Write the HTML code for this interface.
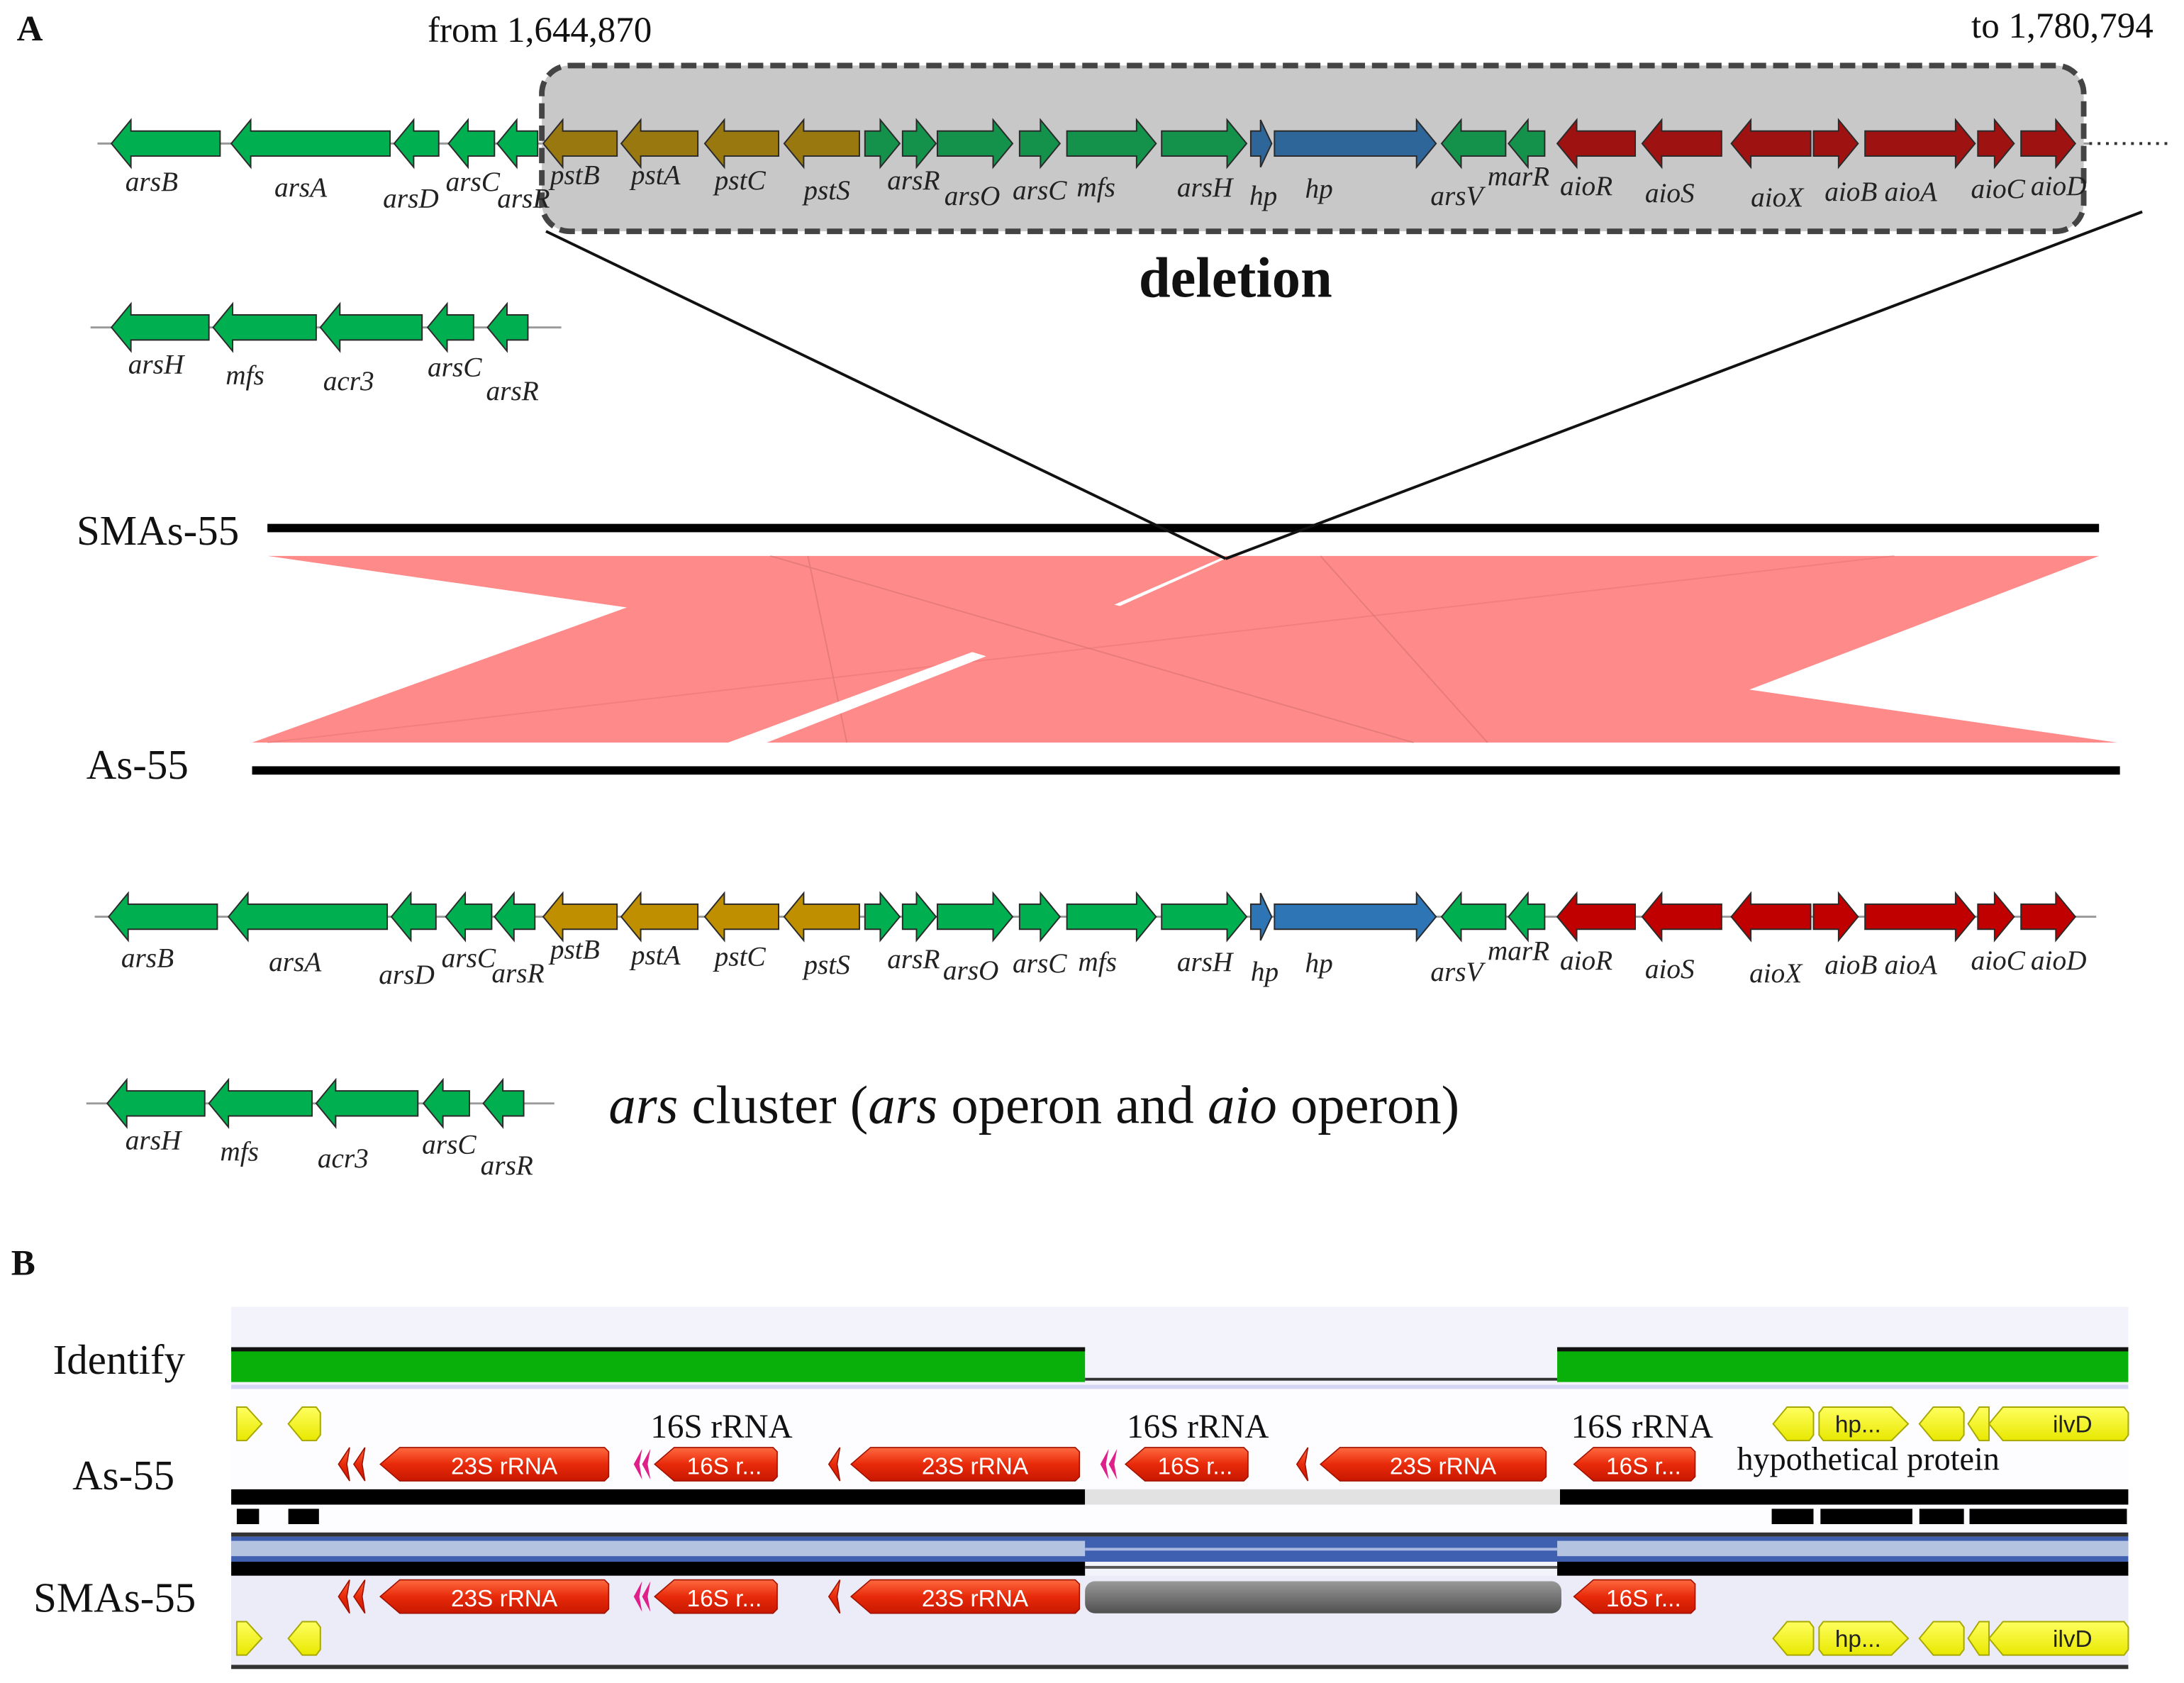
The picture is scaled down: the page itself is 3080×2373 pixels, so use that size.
<!DOCTYPE html>
<html><head><meta charset="utf-8"><style>
html,body{margin:0;padding:0;background:#fff}
svg{display:block}
.it{font-family:"Liberation Serif",serif;font-style:italic;font-size:20px;fill:#222}
.sf{font-family:"Liberation Serif",serif;fill:#111}
.ss{font-family:"Liberation Sans",sans-serif;fill:#fff;font-size:17px}
.gn polygon{stroke:#2a2a2a;stroke-width:1}
.G{fill:var(--g)}.Y{fill:var(--y)}.B{fill:var(--b)}.R{fill:var(--r)}
</style></head><body>
<svg width="3080" height="2373" viewBox="0 0 1568 1208" xmlns="http://www.w3.org/2000/svg">
<defs>
<linearGradient id="rg" x1="0" y1="0" x2="0" y2="1"><stop offset="0" stop-color="#ff6a40"/><stop offset="0.5" stop-color="#e82a0a"/><stop offset="1" stop-color="#c81800"/></linearGradient>
<linearGradient id="gg" x1="0" y1="0" x2="0" y2="1"><stop offset="0" stop-color="#999"/><stop offset="1" stop-color="#505050"/></linearGradient>
<linearGradient id="yg" x1="0" y1="0" x2="0" y2="1"><stop offset="0" stop-color="#ffff60"/><stop offset="1" stop-color="#e8e800"/></linearGradient>
<g id="row" class="gn">
<polygon class="R" points="1118,0 1132,-17 1132,-9 1174,-9 1174,9 1132,9 1132,17"/>
<polygon class="R" points="1179,0 1193,-17 1193,-9 1236,-9 1236,9 1193,9 1193,17"/>
<polygon class="R" points="1243,0 1257,-17 1257,-9 1300,-9 1300,9 1257,9 1257,17"/>
<polygon class="R" points="1302,-9 1320,-9 1320,-17 1334,0 1320,17 1320,9 1302,9"/>
<polygon class="R" points="1339,-9 1404,-9 1404,-17 1418,0 1404,17 1404,9 1339,9"/>
<polygon class="R" points="1420,-9 1432,-9 1432,-17 1446,0 1432,17 1432,9 1420,9"/>
<polygon class="R" points="1451,-9 1476,-9 1476,-17 1490,0 1476,17 1476,9 1451,9"/>
<polygon class="Y" points="390,0 404,-17 404,-9 443,-9 443,9 404,9 404,17"/>
<polygon class="Y" points="446,0 460,-17 460,-9 501,-9 501,9 460,9 460,17"/>
<polygon class="Y" points="506,0 520,-17 520,-9 559,-9 559,9 520,9 520,17"/>
<polygon class="Y" points="563,0 577,-17 577,-9 617,-9 617,9 577,9 577,17"/>
<polygon class="G" points="621,-9 632,-9 632,-17 646,0 632,17 632,9 621,9"/>
<polygon class="G" points="648,-9 658,-9 658,-17 672,0 658,17 658,9 648,9"/>
<polygon class="G" points="673,-9 713,-9 713,-17 727,0 713,17 713,9 673,9"/>
<polygon class="G" points="732,-9 747,-9 747,-17 761,0 747,17 747,9 732,9"/>
<polygon class="G" points="766,-9 816,-9 816,-17 830,0 816,17 816,9 766,9"/>
<polygon class="G" points="834,-9 881,-9 881,-17 895,0 881,17 881,9 834,9"/>
<polygon class="B" points="898,-9 905,-9 905,-17 913,0 905,17 905,9 898,9"/>
<polygon class="B" points="915,-9 1017,-9 1017,-17 1031,0 1017,17 1017,9 915,9"/>
<polygon class="G" points="1035,0 1049,-17 1049,-9 1081,-9 1081,9 1049,9 1049,17"/>
<polygon class="G" points="1083,0 1097,-17 1097,-9 1109,-9 1109,9 1097,9 1097,17"/>
</g>
<g id="left5" class="gn" style="--g:#00b050">
<polygon class="G" points="80,0 94,-17 94,-9 158,-9 158,9 94,9 94,17"/>
<polygon class="G" points="166,0 180,-17 180,-9 280,-9 280,9 180,9 180,17"/>
<polygon class="G" points="283,0 297,-17 297,-9 315,-9 315,9 297,9 297,17"/>
<polygon class="G" points="322,0 336,-17 336,-9 355,-9 355,9 336,9 336,17"/>
<polygon class="G" points="357,0 371,-17 371,-9 386,-9 386,9 371,9 371,17"/>
</g>
<g id="small" class="gn" style="--g:#00b050">
<polygon class="G" points="80,0 94,-17 94,-9 150,-9 150,9 94,9 94,17"/>
<polygon class="G" points="153,0 167,-17 167,-9 227,-9 227,9 167,9 167,17"/>
<polygon class="G" points="230,0 244,-17 244,-9 303,-9 303,9 244,9 244,17"/>
<polygon class="G" points="307,0 321,-17 321,-9 340,-9 340,9 321,9 321,17"/>
<polygon class="G" points="350,0 364,-17 364,-9 379,-9 379,9 364,9 364,17"/>
</g>
</defs>

<!-- Panel A -->
<text x="12" y="29" class="sf" style="font-size:26px;font-weight:bold">A</text>
<text x="307" y="30" class="sf" style="font-size:26px">from 1,644,870</text>
<text x="1546" y="27" class="sf" text-anchor="end" style="font-size:26px">to 1,780,794</text>

<line x1="70" y1="103" x2="1500" y2="103" stroke="#999" stroke-width="1.5"/>
<line x1="1500" y1="103" x2="1560" y2="103" stroke="#333" stroke-width="2" stroke-dasharray="2,4"/>
<rect x="389" y="47" width="1107" height="119" rx="20" fill="#c8c8c8" stroke="#444" stroke-width="4" stroke-dasharray="11,5"/>
<use href="#left5" transform="translate(0,103)"/>
<use href="#row" transform="translate(0,103)" style="--g:#14914a;--y:#9a7810;--b:#2f6699;--r:#9e1212"/>
<g class="it">
<text x="90" y="137">arsB</text><text x="197" y="141">arsA</text><text x="275" y="149">arsD</text><text x="320" y="137">arsC</text><text x="357" y="149">arsR</text>
<text x="395" y="132">pstB</text><text x="453" y="132">pstA</text><text x="513" y="136">pstC</text><text x="577" y="143">pstS</text><text x="637" y="136">arsR</text><text x="678" y="147">arsO</text><text x="727" y="143">arsC</text><text x="773" y="141">mfs</text><text x="845" y="141">arsH</text><text x="897" y="147">hp</text><text x="937" y="142">hp</text><text x="1027" y="147">arsV</text><text x="1068" y="133">marR</text><text x="1120" y="140">aioR</text><text x="1181" y="145">aioS</text><text x="1257" y="148">aioX</text><text x="1310" y="144">aioB</text><text x="1353" y="144">aioA</text><text x="1415" y="142">aioC</text><text x="1458" y="140">aioD</text>
</g>

<line x1="65" y1="235" x2="403" y2="235" stroke="#999" stroke-width="1.5"/>
<use href="#small" transform="translate(0,235)"/>
<g class="it"><text x="92" y="268">arsH</text><text x="162" y="276">mfs</text><text x="232" y="280">acr3</text><text x="307" y="270">arsC</text><text x="349" y="287">arsR</text></g>

<text x="887" y="213" class="sf" text-anchor="middle" style="font-size:41px;font-weight:bold">deletion</text>

<!-- synteny -->
<text x="55" y="391" class="sf" style="font-size:30px">SMAs-55</text>
<rect x="192" y="376" width="1315" height="6" fill="#000"/>
<polygon points="192,399 1507,399 1256,495 1520,533 181,533 450,436" fill="#ff8a8a"/>
<g stroke="#b05a5a" stroke-width="1" opacity="0.3" fill="none">
<line x1="553" y1="399" x2="1015" y2="533"/><line x1="580" y1="399" x2="608" y2="533"/><line x1="948" y1="399" x2="1068" y2="533"/>
</g>
<line x1="192" y1="533" x2="1360" y2="399" stroke="#e07070" stroke-width="1" opacity="0.4"/>
<polygon points="520,534 548,534 708,471 698,468" fill="#fff"/>
<polygon points="800,434 804,435 882,400 878,400" fill="#fff"/>
<line x1="392" y1="166" x2="880" y2="401" stroke="#111" stroke-width="2"/>
<line x1="1538" y1="152" x2="880" y2="401" stroke="#111" stroke-width="2"/>
<text x="62" y="559" class="sf" style="font-size:30px">As-55</text>
<rect x="181" y="550" width="1341" height="6" fill="#000"/>

<line x1="68" y1="658" x2="1505" y2="658" stroke="#999" stroke-width="1.5"/>
<use href="#left5" transform="translate(-2,658)"/>
<use href="#row" transform="translate(0,658)" style="--g:#00b050;--y:#bf8f00;--b:#2e75b6;--r:#c00000"/>
<g class="it">
<text x="87" y="694">arsB</text><text x="193" y="697">arsA</text><text x="272" y="706">arsD</text><text x="317" y="694">arsC</text><text x="353" y="705">arsR</text>
<text x="395" y="688">pstB</text><text x="453" y="692">pstA</text><text x="513" y="693">pstC</text><text x="577" y="699">pstS</text><text x="637" y="695">arsR</text><text x="677" y="703">arsO</text><text x="727" y="698">arsC</text><text x="774" y="697">mfs</text><text x="845" y="697">arsH</text><text x="898" y="704">hp</text><text x="937" y="698">hp</text><text x="1027" y="704">arsV</text><text x="1068" y="689">marR</text><text x="1120" y="696">aioR</text><text x="1181" y="702">aioS</text><text x="1256" y="705">aioX</text><text x="1310" y="699">aioB</text><text x="1353" y="699">aioA</text><text x="1415" y="696">aioC</text><text x="1458" y="696">aioD</text>
</g>

<line x1="62" y1="792" x2="398" y2="792" stroke="#999" stroke-width="1.5"/>
<use href="#small" transform="translate(-3,792)"/>
<g class="it"><text x="90" y="825">arsH</text><text x="158" y="833">mfs</text><text x="228" y="838">acr3</text><text x="303" y="828">arsC</text><text x="345" y="843">arsR</text></g>
<text x="437" y="806" class="sf" style="font-size:39px"><tspan font-style="italic">ars</tspan> cluster (<tspan font-style="italic">ars</tspan> operon and <tspan font-style="italic">aio</tspan> operon)</text>

<!-- Panel B -->
<text x="8" y="915" class="sf" style="font-size:26px;font-weight:bold">B</text>
<rect x="166" y="938" width="1362" height="260" fill="#f3f3fc"/>
<rect x="166" y="997" width="1362" height="103" fill="#fdfdff"/>
<rect x="166" y="1131" width="1362" height="65" fill="#ececf8"/>
<text x="38" y="986" class="sf" style="font-size:30px">Identify</text>
<text x="52" y="1069" class="sf" style="font-size:30px">As-55</text>
<text x="24" y="1157" class="sf" style="font-size:30px">SMAs-55</text>

<rect x="166" y="967" width="613" height="25" fill="#0ab00a"/><rect x="166" y="967" width="613" height="3" fill="#111"/>
<rect x="1118" y="967" width="410" height="25" fill="#0ab00a"/><rect x="1118" y="967" width="410" height="3" fill="#111"/>
<rect x="779" y="989" width="339" height="2" fill="#333"/>
<rect x="166" y="994" width="1362" height="3" fill="#d4d4f4"/>

<rect x="166" y="1069" width="613" height="11" fill="#000"/>
<rect x="779" y="1069" width="341" height="11" fill="#e2e2e2"/>
<rect x="1120" y="1069" width="408" height="11" fill="#000"/>
<g fill="#000">
<rect x="170" y="1083" width="16" height="11"/><rect x="207" y="1083" width="22" height="11"/>
<rect x="1272" y="1083" width="30" height="11"/><rect x="1307" y="1083" width="66" height="11"/><rect x="1378" y="1083" width="32" height="11"/><rect x="1414" y="1083" width="113" height="11"/>
</g>
<rect x="166" y="1100" width="1362" height="3" fill="#333"/>
<rect x="166" y="1103" width="1362" height="18" fill="#3f5fb0"/>
<rect x="166" y="1106" width="613" height="11" fill="#b4c4e0"/>
<rect x="1118" y="1106" width="410" height="11" fill="#b4c4e0"/>
<rect x="779" y="1111" width="339" height="2" fill="#a8b8e0"/>
<rect x="166" y="1121" width="613" height="10" fill="#000"/>
<rect x="1118" y="1121" width="410" height="10" fill="#000"/>
<rect x="779" y="1124" width="339" height="2" fill="#555"/>
<rect x="166" y="1195" width="1362" height="3" fill="#333"/>

<!-- As-55 features -->
<g fill="url(#rg)" stroke="#a01000" stroke-width="0.8">
<polygon points="243,1051 251,1039 249,1051 251,1063"/><polygon points="254,1051 262,1039 260,1051 262,1063"/>
<polygon points="273,1051 287,1039 434,1039 437,1042 437,1060 434,1063 287,1063"/>
<polygon points="470,1051 484,1039 555,1039 558,1042 558,1060 555,1063 484,1063"/>
<polygon points="595,1051 603,1039 601,1051 603,1063"/>
<polygon points="611,1051 625,1039 772,1039 775,1042 775,1060 772,1063 625,1063"/>
<polygon points="808,1051 822,1039 893,1039 896,1042 896,1060 893,1063 822,1063"/>
<polygon points="931,1051 939,1039 937,1051 939,1063"/>
<polygon points="948,1051 962,1039 1107,1039 1110,1042 1110,1060 1107,1063 962,1063"/>
<polygon points="1130,1051 1144,1039 1214,1039 1217,1042 1217,1060 1214,1063 1144,1063"/>
</g>
<g fill="#e0208a"><polygon points="455,1051 461,1040 459,1051 461,1062"/><polygon points="461,1051 467,1040 465,1051 467,1062"/>
<polygon points="790,1051 796,1040 794,1051 796,1062"/><polygon points="796,1051 802,1040 800,1051 802,1062"/></g>
<g class="ss" text-anchor="middle">
<text x="362" y="1058">23S rRNA</text><text x="520" y="1058">16S r...</text><text x="700" y="1058">23S rRNA</text><text x="858" y="1058">16S r...</text><text x="1036" y="1058">23S rRNA</text><text x="1180" y="1058">16S r...</text>
</g>
<g class="sf" style="font-size:24px"><text x="467" y="1032">16S rRNA</text><text x="809" y="1032">16S rRNA</text><text x="1128" y="1032">16S rRNA</text><text x="1247" y="1055" style="font-size:23.5px">hypothetical protein</text></g>

<!-- SMAs-55 features -->
<g fill="url(#rg)" stroke="#a01000" stroke-width="0.8">
<polygon points="243,1146 251,1134 249,1146 251,1158"/><polygon points="254,1146 262,1134 260,1146 262,1158"/>
<polygon points="273,1146 287,1134 434,1134 437,1137 437,1155 434,1158 287,1158"/>
<polygon points="470,1146 484,1134 555,1134 558,1137 558,1155 555,1158 484,1158"/>
<polygon points="595,1146 603,1134 601,1146 603,1158"/>
<polygon points="611,1146 625,1134 772,1134 775,1137 775,1155 772,1158 625,1158"/>
<polygon points="1130,1146 1144,1134 1214,1134 1217,1137 1217,1155 1214,1158 1144,1158"/>
</g>
<g fill="#e0208a"><polygon points="455,1146 461,1135 459,1146 461,1157"/><polygon points="461,1146 467,1135 465,1146 467,1157"/></g>
<rect x="779" y="1135" width="342" height="23" rx="7" fill="url(#gg)"/>
<g class="ss" text-anchor="middle">
<text x="362" y="1153">23S rRNA</text><text x="520" y="1153">16S r...</text><text x="700" y="1153">23S rRNA</text><text x="1180" y="1153">16S r...</text>
</g>

<!-- yellow -->
<g id="yl" fill="url(#yg)" stroke="#a8a800" stroke-width="1">
<polygon points="170,1010 177,1010 188,1022 177,1034 170,1034"/>
<polygon points="207,1022 217,1010 227,1010 230,1014 230,1030 227,1034 217,1034"/>
<polygon points="1273,1022 1283,1010 1299,1010 1302,1014 1302,1030 1299,1034 1283,1034"/>
<polygon points="1306,1014 1309,1010 1358,1010 1370,1022 1358,1034 1309,1034 1306,1030"/>
<polygon points="1378,1022 1388,1010 1407,1010 1410,1014 1410,1030 1407,1034 1388,1034"/>
<polygon points="1413,1022 1421,1010 1428,1010 1428,1034 1421,1034"/>
<polygon points="1428,1022 1438,1010 1525,1010 1528,1014 1528,1030 1525,1034 1438,1034"/>
</g>
<use href="#yl" transform="translate(0,154)"/>
<g style="font-family:'Liberation Sans',sans-serif;font-size:17px;fill:#222" text-anchor="middle">
<text x="1334" y="1028">hp...</text><text x="1488" y="1028">ilvD</text>
<text x="1334" y="1182">hp...</text><text x="1488" y="1182">ilvD</text>
</g>
</svg>
</body></html>
